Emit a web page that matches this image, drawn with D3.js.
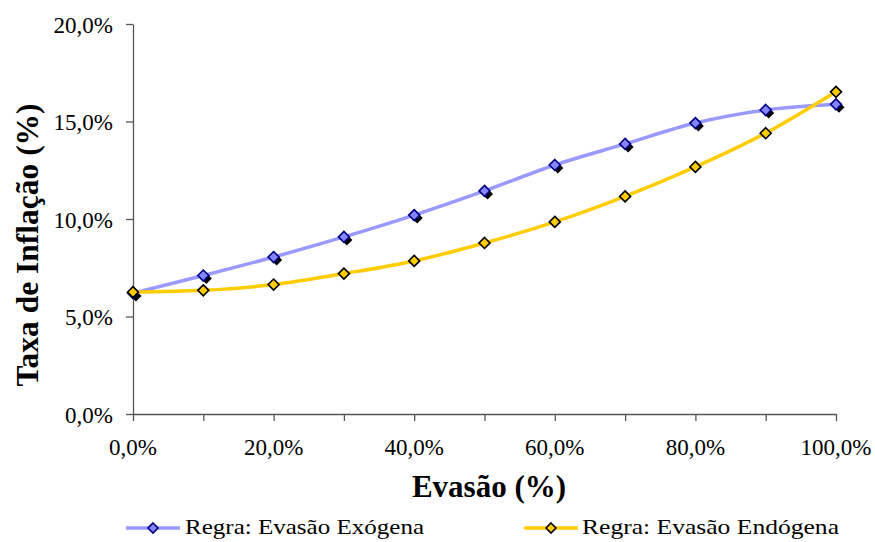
<!DOCTYPE html>
<html>
<head>
<meta charset="utf-8">
<script src="https://cdn.jsdelivr.net/npm/d3@7"></script>
<style>
  html, body { margin: 0; padding: 0; background: #fff; }
  svg { display: block; }
</style>
</head>
<body>
<svg id="chart" width="875" height="542"></svg>
<script>
// Evasão (share of evasion, %) on the x axis
const evasao = [0, 10, 20, 30, 40, 50, 60, 70, 80, 90, 100];
// Inflation rate (%) under each rule
const exogena = [6.2, 7.1, 8.05, 9.08, 10.2, 11.44, 12.77, 13.85, 14.92, 15.59, 15.88];
const endogena = [6.25, 6.34, 6.64, 7.2, 7.85, 8.77, 9.85, 11.16, 12.67, 14.4, 16.52];
const xTickLabels = [0, 20, 40, 60, 80, 100];
const yTickLabels = [0, 5, 10, 15, 20];
const seriesNames = ["Regra: Evasão Exógena", "Regra: Evasão Endógena"];

const SERIF = "'Liberation Serif', 'Times New Roman', Times, serif";
const fmt = v => v.toFixed(1).replace(".", ",") + "%";

const svg = d3.select("#chart");
const margin = { left: 133, right: 39, top: 24, bottom: 128 };
const W = 875, H = 542;

const x = d3.scaleLinear().domain([0, 100]).range([margin.left, W - margin.right]);
const y = d3.scaleLinear().domain([0, 20]).range([H - margin.bottom, margin.top]);

const axisColor = "#555";

// x axis: ticks every 10%, labels every 20%
const xAxis = svg.append("g")
  .attr("transform", `translate(0,${y(0)})`)
  .call(d3.axisBottom(x).tickValues(evasao).tickSize(7).tickSizeOuter(0).tickFormat(""));
xAxis.select(".domain").attr("stroke", axisColor).attr("stroke-width", 1.3);
xAxis.selectAll(".tick line").attr("stroke", axisColor).attr("stroke-width", 1.3);

svg.append("g").selectAll("text").data(xTickLabels).join("text")
  .attr("x", d => x(d)).attr("y", 455)
  .attr("text-anchor", "middle")
  .style("font-family", SERIF)
  .attr("font-size", 23)
  .text(fmt);

// y axis
const yAxis = svg.append("g")
  .attr("transform", `translate(${x(0)},0)`)
  .call(d3.axisLeft(y).tickValues(yTickLabels).tickSize(7).tickSizeOuter(0).tickFormat(""));
yAxis.select(".domain").attr("stroke", axisColor).attr("stroke-width", 1.3);
yAxis.selectAll(".tick line").attr("stroke", axisColor).attr("stroke-width", 1.3);

svg.append("g").selectAll("text").data(yTickLabels).join("text")
  .attr("x", 113).attr("y", d => y(d) + 8.5)
  .attr("text-anchor", "end")
  .style("font-family", SERIF)
  .attr("font-size", 23)
  .text(fmt);

// axis titles
svg.append("text")
  .attr("x", 489).attr("y", 497)
  .attr("text-anchor", "middle")
  .style("font-family", SERIF)
  .attr("font-size", 31).attr("font-weight", "bold")
  .text("Evasão (%)");

svg.append("text")
  .attr("transform", "translate(38,245) rotate(-90)")
  .attr("text-anchor", "middle")
  .style("font-family", SERIF)
  .attr("font-size", 31.5).attr("font-weight", "bold")
  .text("Taxa de Inflação (%)");

const line = d3.line()
  .x((d, i) => x(evasao[i]))
  .y(d => y(d))
  .curve(d3.curveCardinal.tension(0));

const diamond = (cx, cy, r) => `M${cx},${cy - r}L${cx + r},${cy}L${cx},${cy + r}L${cx - r},${cy}Z`;

const series = [
  { values: exogena, line: "#9999FF", fill: "#8585FF", stroke: "#000080", shadow: true },
  { values: endogena, line: "#FFCC00", fill: "#FFCC00", stroke: "#000000", shadow: false }
];

series.forEach(s => {
  const g = svg.append("g");
  g.append("path")
    .attr("d", line(s.values))
    .attr("fill", "none")
    .attr("stroke", s.line)
    .attr("stroke-width", 3.5);
  if (s.shadow) {
    g.selectAll("path.shadow").data(s.values).join("path")
      .attr("class", "shadow")
      .attr("d", (d, i) => diamond(x(evasao[i]) + 3, y(d) + 3, 5.5))
      .attr("fill", "#000");
  }
  g.selectAll("path.mk").data(s.values).join("path")
    .attr("class", "mk")
    .attr("d", (d, i) => diamond(x(evasao[i]), y(d), 5.5))
    .attr("fill", s.fill)
    .attr("stroke", s.stroke)
    .attr("stroke-width", 1.6);
});

// legend
const legendItems = [
  { x0: 126, tx: 185, len: 239 },
  { x0: 524, tx: 582, len: 257 }
];
legendItems.forEach((it, i) => {
  const s = series[i];
  const g = svg.append("g");
  g.append("line")
    .attr("x1", it.x0).attr("x2", it.x0 + 54)
    .attr("y1", 528).attr("y2", 528)
    .attr("stroke", s.line).attr("stroke-width", 3.5);
  g.append("path")
    .attr("d", diamond(it.x0 + 27, 528, 5))
    .attr("fill", s.fill).attr("stroke", s.stroke).attr("stroke-width", 1.6);
  g.append("text")
    .attr("x", it.tx).attr("y", 534)
    .style("font-family", SERIF)
    .attr("font-size", 21)
    .attr("textLength", it.len)
    .attr("lengthAdjust", "spacingAndGlyphs")
    .text(seriesNames[i]);
});
</script>
</body>
</html>
